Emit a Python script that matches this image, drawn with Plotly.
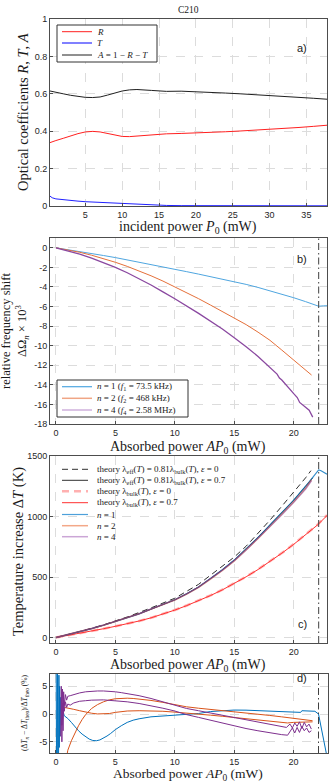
import plotly.graph_objects as go

# ---------------------------------------------------------------------------
# data (sample C210)
# ---------------------------------------------------------------------------

# a) optical coefficients vs incident power
P0 = [0.2, 0.5, 1, 2, 3, 4, 5, 6, 7, 8, 9, 10, 11, 12, 14, 16, 18, 20, 22, 24, 26, 28, 30, 32, 34, 36, 37.8]
R = [0.339, 0.344, 0.350, 0.362, 0.375, 0.387, 0.396, 0.399, 0.396, 0.388, 0.378, 0.372, 0.371, 0.374,
     0.381, 0.386, 0.388, 0.390, 0.393, 0.397, 0.401, 0.405, 0.409, 0.414, 0.420, 0.426, 0.432]
T = [0.053, 0.044, 0.038, 0.033, 0.029, 0.026, 0.023, 0.021, 0.019, 0.017, 0.015, 0.013, 0.010, 0.007,
     0.004, 0.003, 0.002, 0.002, 0.002, 0.001, 0.001, 0.001, 0.001, 0.001, 0.001, 0.001, 0.001]
A = [0.615, 0.612, 0.608, 0.600, 0.592, 0.585, 0.581, 0.580, 0.583, 0.593, 0.605, 0.615, 0.621, 0.623,
     0.618, 0.613, 0.614, 0.612, 0.608, 0.604, 0.600, 0.596, 0.592, 0.587, 0.582, 0.576, 0.571]

# b) relative frequency shift vs absorbed power
AP_B1 = [0, 1, 2, 3, 4, 5, 6, 7, 8, 9, 10, 11, 12, 13, 14, 15, 16, 17, 18, 19, 20, 21, 22.1, 22.5, 22.8]
SHIFT_N1 = [0, -0.18, -0.37, -0.58, -0.79, -1.0, -1.23, -1.46, -1.70, -1.95, -2.2, -2.44, -2.69, -2.94,
            -3.19, -3.45, -3.74, -4.05, -4.38, -4.73, -5.1, -5.5, -5.97, -5.93, -5.92]
AP_B2 = [0, 1, 2, 3, 4, 5, 6, 7, 8, 9, 10, 11, 12, 13, 14, 15, 16, 17, 18, 19, 20, 21, 21.5]
SHIFT_N2 = [0, -0.2, -0.46, -0.76, -1.1, -1.48, -1.9, -2.36, -2.86, -3.4, -3.98, -4.58, -5.2, -5.85,
            -6.5, -7.15, -7.85, -8.62, -9.45, -10.45, -11.5, -12.5, -13.0]
AP_B4 = [0, 1, 2, 3, 4, 5, 6, 7, 8, 9, 10, 12, 14, 15, 16, 17, 18, 18.6, 18.8, 19, 20, 20.3, 20.5, 21, 21.3, 21.6]
SHIFT_N4 = [0, -0.3, -0.65, -1.05, -1.5, -2.0, -2.55, -3.15, -3.8, -4.5, -5.2, -6.7, -8.3, -9.2, -10.1,
            -11.1, -12.2, -12.9, -13.3, -13.5, -14.9, -15.3, -15.8, -16.3, -16.6, -17.3]

# c) temperature increase vs absorbed power
AP_C = [0, 1, 2, 3, 4, 5, 6, 7, 8, 9, 10, 11, 12, 13, 14, 15, 16, 17, 18, 19, 20, 21]
DT_EFF_E0_X = [0, 2, 4, 6, 8, 10, 12, 14, 15, 16, 17, 18, 19, 20, 21, 21.45]
DT_EFF_E0 = [0, 49, 105, 170, 245, 325, 440, 585, 665, 755, 860, 970, 1085, 1200, 1320, 1379]
DT_EFF_E07 = [0, 23, 48, 74, 102, 132, 164, 197, 234, 272, 312, 362, 418, 488, 560, 640, 730, 828, 930,
              1030, 1135, 1250, 1320]
DT_BULK_X = [0, 1, 2, 3, 4, 5, 6, 7, 8, 9, 10, 11, 12, 13, 14, 15, 16, 17, 18, 19, 20, 21, 22, 22.8]
DT_BULK_E0 = [0, 17, 35, 54, 73, 93, 114, 137, 163, 194, 228, 265, 305, 348, 395, 447, 503, 563, 628,
              698, 772, 850, 932, 1012]
DT_BULK_E07 = [0, 17, 35, 54, 73, 93, 114, 137, 163, 193, 227, 264, 304, 347, 394, 446, 502, 562, 627,
               697, 770, 848, 930, 1008]
DT_N1_X = [0, 1, 2, 3, 4, 5, 6, 7, 8, 9, 10, 11, 12, 13, 14, 15, 16, 17, 18, 19, 20, 21, 22.1, 22.3, 22.5, 22.8]
DT_N1 = [0, 23, 48, 74, 102, 132, 163, 196, 236, 272, 312, 362, 418, 488, 560, 640, 730, 828, 930, 1030,
         1135, 1250, 1385, 1378, 1368, 1350]
DT_N2 = [0, 23, 48, 74, 102, 132, 163, 196, 235, 271, 310, 359, 414, 483, 554, 633, 722, 819, 919, 1019,
         1123, 1236, 1305]
DT_N4 = [0, 23, 48, 75, 103, 133, 164, 197, 236, 272, 311, 361, 416, 486, 557, 636, 723, 821, 917, 1015,
         1118, 1228, 1298]

# d) relative deviation from theory (%)
DEV_N1_X = [0.02, 0.05, 0.08, 0.1, 0.13, 0.16, 0.19, 0.22, 0.25, 0.28, 0.31, 0.35, 0.4, 0.45, 0.5, 0.55,
            0.6, 0.7, 1.0, 1.3, 1.6, 1.9, 2.2, 2.5, 2.8, 3.1, 3.4, 3.7, 4.0, 4.3, 4.6, 5.0, 5.5, 6.0, 6.5,
            7.0, 8.0, 9.0, 10, 11, 12, 13, 14, 15, 16, 17, 18, 19, 20, 20.6, 20.7, 21.5, 21.8, 22.1, 22.4, 22.8]
DEV_N1 = [9, -9, 8, -8, 9, -9, 8, -8, 7, -6, 5, -4, 3, -2, 1.5, -1, 0.5, -0.3, -0.8, -1.5, -2.3, -3.0,
          -3.6, -4.1, -4.5, -4.75, -4.8, -4.65, -4.35, -3.95, -3.5, -2.8, -2.1, -1.5, -1.1, -0.85, -0.5,
          -0.35, -0.25, -0.15, 0.1, 0.45, 0.65, 0.72, 0.7, 0.6, 0.5, 0.35, 0.3, 0.3, 0.6, 0.6, 0.5, 0.0,
          -3.0, -7.5]
DEV_N2A_X = [0.85, 1.0, 1.3, 1.6, 1.9, 2.2, 2.5, 3.0, 3.5, 4.0, 4.5, 5.0, 5.5, 6.0, 6.5, 7.0, 8.0, 9.0,
             10, 11, 12, 13, 14, 15, 16, 17, 18, 19, 20, 21, 21.6]
DEV_N2A = [-8.3, -6.5, -4.8, -3.3, -2.1, -1.0, -0.1, 1.0, 1.7, 2.2, 2.55, 2.75, 2.85, 2.85, 2.8, 2.7,
           2.45, 2.1, 1.7, 1.3, 1.05, 0.85, 0.6, 0.45, 0.2, 0.0, -0.25, -0.5, -0.75, -1.0, -1.2]
DEV_N2B_X = [0.7, 1.0, 1.5, 2.0, 2.5, 3.0, 3.5, 4.0, 4.5, 5.0, 5.5, 6.0, 7.0, 8.0, 9.0, 10, 11, 12, 13,
             14, 15, 16, 17, 18, 19, 19.5, 20, 21, 21.6]
DEV_N2B = [1.2, 1.1, 0.85, 0.6, 0.35, 0.15, 0.02, 0.0, 0.1, 0.3, 0.45, 0.55, 0.6, 0.6, 0.5, 0.35, 0.2,
           0.0, -0.2, -0.4, -0.6, -0.8, -1.0, -1.2, -1.45, -1.6, -1.5, -1.45, -1.4]
DEV_N4A_X = [0.4, 0.45, 0.5, 0.55, 0.6, 0.65, 0.7, 0.8, 0.9, 1.0, 1.2, 1.5, 2.0, 2.5, 3.0, 3.5, 4.0, 4.5,
             5.0, 5.5, 6.0, 7.0, 8.0, 9.0, 10, 11, 12, 13, 14, 15, 16, 17, 18, 19, 19.4, 19.7, 19.9,
             20.1, 20.3, 20.5, 20.7, 20.9, 21.1, 21.3, 21.5]
DEV_N4A = [-4, 5, -2, 4.5, 0, 4, 1.5, 3.5, 2.5, 3.2, 3.3, 3.5, 3.8, 4.0, 4.1, 4.15, 4.15, 4.1, 4.0, 3.85,
           3.7, 3.3, 2.8, 2.2, 1.5, 1.0, 0.6, 0.2, -0.2, -0.6, -1.0, -1.4, -1.8, -2.2, -2.4, -1.8, -2.5,
           -1.6, -2.2, -1.4, -2.6, -1.5, -2.3, -1.8, -2.7]
DEV_N4B_X = [0.45, 0.5, 0.55, 0.6, 0.65, 0.7, 0.8, 0.9, 1.0, 1.2, 1.5, 2.0, 2.5, 3.0, 4.0, 5.0, 6.0, 7.0,
             8.0, 9.0, 10, 11, 12, 13, 14, 15, 16, 17, 18, 19, 19.5, 19.9, 20.1, 20.3, 20.5, 20.7, 20.9,
             21.1, 21.3, 21.5]
DEV_N4B = [3, -5, 2, -3, 2.5, 0.5, 2.2, 1.2, 1.8, 1.6, 2.0, 2.3, 2.4, 2.5, 2.55, 2.4, 2.2, 1.9, 1.5,
           1.05, 0.55, -0.1, -0.6, -1.1, -1.6, -2.2, -2.6, -3.0, -3.4, -3.7, -3.8, -2.5, -3.4, -2.4, -3.3,
           -2.2, -3.0, -2.5, -3.3, -3.0]

P_CUTOFF = 22.1  # dash-dot marker in b), c), d)

# ---------------------------------------------------------------------------
# styling
# ---------------------------------------------------------------------------
W, H = 333, 784
SERIF = "Liberation Serif"
SANS = "Liberation Sans"
AXIS_COLOR = "#4d4d4d"
GRID_COLOR = "#dcdcdc"
BLUE, ORANGE, PURPLE = "#0072BD", "#D95319", "#7E2F8E"

LINES_A = {"R": dict(color="#ff2020", width=1), "T": dict(color="#2020ff", width=1),
           "A": dict(color="#202020", width=1)}
LINES_B = [dict(color="#4fa6e0", width=1), dict(color="#e5703a", width=1), dict(color="#8a48a0", width=1.3)]
LINES_C = [dict(color="#303030", width=1, dash="6px,4px"), dict(color="#303030", width=1),
           dict(color="rgba(255,110,110,0.55)", width=2.5, dash="7px,5px"), dict(color="#ff3030", width=1),
           dict(color="rgba(0,114,189,0.8)", width=1.2), dict(color="rgba(217,83,25,0.5)", width=1.5),
           dict(color="rgba(126,47,142,0.5)", width=1.5)]


def px_x(p):
    return p / W


def px_y(p):
    return 1 - p / H


X_DOM = [px_x(50), px_x(327)]
DOMAINS = {"a": [px_y(206), px_y(19)], "b": [px_y(424), px_y(238)],
           "c": [px_y(643), px_y(456)], "d": [px_y(753), px_y(674)]}


def axis_style(**kw):
    base = dict(showline=True, mirror=True, linecolor=AXIS_COLOR, linewidth=1, automargin=False,
                ticks="inside", ticklen=3, tickcolor=AXIS_COLOR,
                showgrid=True, gridcolor=GRID_COLOR, griddash="dash", gridwidth=1,
                zeroline=False, tickfont=dict(family=SANS, size=9, color="#262626"))
    base.update(kw)
    return base


fig = go.Figure()

# a)
fig.add_trace(go.Scatter(x=P0, y=R, mode="lines", line=LINES_A["R"], xaxis="x", yaxis="y"))
fig.add_trace(go.Scatter(x=P0, y=T, mode="lines", line=LINES_A["T"], xaxis="x", yaxis="y"))
fig.add_trace(go.Scatter(x=P0, y=A, mode="lines", line=LINES_A["A"], xaxis="x", yaxis="y"))

# b)
for xs, ys, ln in zip([AP_B1, AP_B2, AP_B4], [SHIFT_N1, SHIFT_N2, SHIFT_N4], LINES_B):
    fig.add_trace(go.Scatter(x=xs, y=ys, mode="lines", line=ln, xaxis="x2", yaxis="y2"))

# c)
c_series = [(DT_EFF_E0_X, DT_EFF_E0), (AP_C + [21.6], DT_EFF_E07), (DT_BULK_X, DT_BULK_E0),
            (DT_BULK_X, DT_BULK_E07), (DT_N1_X, DT_N1), (AP_C + [21.5], DT_N2), (AP_C + [21.5], DT_N4)]
for (xs, ys), ln in zip(c_series, LINES_C):
    fig.add_trace(go.Scatter(x=xs, y=ys, mode="lines", line=ln, xaxis="x3", yaxis="y3"))

# d)
for xs, ys, col in [(DEV_N1_X, DEV_N1, BLUE), (DEV_N2A_X, DEV_N2A, ORANGE), (DEV_N2B_X, DEV_N2B, ORANGE),
                    (DEV_N4A_X, DEV_N4A, PURPLE), (DEV_N4B_X, DEV_N4B, PURPLE)]:
    fig.add_trace(go.Scatter(x=xs, y=ys, mode="lines", line=dict(color=col, width=1),
                             xaxis="x4", yaxis="y4"))

# dash-dot cutoff line
for ax in ["2", "3", "4"]:
    fig.add_shape(type="line", xref="x" + ax, yref="y" + ax + " domain", x0=P_CUTOFF, x1=P_CUTOFF,
                  y0=0, y1=1, line=dict(color="#404040", width=1, dash="7px,3px,1.5px,3px"))

yb_ticks = [-18, -16, -14, -12, -10, -8, -6, -4, -2, 0]
yd_ticks = [-5, 0, 5]

fig.update_layout(
    template="none",
    width=W, height=H, margin=dict(l=0, r=0, t=0, b=0),
    paper_bgcolor="white", plot_bgcolor="white", showlegend=False,
    xaxis=axis_style(domain=X_DOM, anchor="y", range=[0.2, 37.8], tickvals=[5, 10, 15, 20, 25, 30, 35]),
    yaxis=axis_style(domain=DOMAINS["a"], anchor="x", range=[0, 1],
                     tickvals=[0, 0.2, 0.4, 0.6, 0.8, 1], ticktext=["0", "0.2", "0.4", "0.6", "0.8", "1"]),
    xaxis2=axis_style(domain=X_DOM, anchor="y2", range=[-0.5, 22.8], tickvals=[0, 5, 10, 15, 20]),
    yaxis2=axis_style(domain=DOMAINS["b"], anchor="x2", range=[-18, 1], tickvals=yb_ticks,
                      ticktext=[str(v) for v in yb_ticks]),
    xaxis3=axis_style(domain=X_DOM, anchor="y3", range=[-0.5, 22.8], tickvals=[0, 5, 10, 15, 20]),
    yaxis3=axis_style(domain=DOMAINS["c"], anchor="x3", range=[-45, 1500], tickvals=[0, 500, 1000, 1500],
                      ticktext=["0", "500", "1000", "1500"]),
    xaxis4=axis_style(domain=[px_x(50), px_x(328)], anchor="y4", range=[-0.5, 22.9],
                      tickvals=[0, 5, 10, 15, 20]),
    yaxis4=axis_style(domain=DOMAINS["d"], anchor="x4", range=[-7, 7.2], tickvals=yd_ticks,
                      ticktext=[str(v) for v in yd_ticks]),
)


# hand-drawn legends (MATLAB style, compact rows)
def add_legend(entries, x_line0, x_line1, x_text, rows_y, box=None):
    if box is not None:
        x0, y0, x1, y1 = box
        fig.add_shape(type="rect", xref="paper", yref="paper", x0=px_x(x0), x1=px_x(x1),
                      y0=px_y(y1), y1=px_y(y0), line=dict(color="#333333", width=1), fillcolor="white")
    for (label, ln), y in zip(entries, rows_y):
        fig.add_shape(type="line", xref="paper", yref="paper", x0=px_x(x_line0), x1=px_x(x_line1),
                      y0=px_y(y), y1=px_y(y), line=ln)
        fig.add_annotation(text=label, x=px_x(x_text), y=px_y(y), xref="paper", yref="paper",
                           showarrow=False, xanchor="left", yanchor="middle",
                           font=dict(family=SERIF, size=9, color="#1a1a1a"))


add_legend([("<i>R</i>", LINES_A["R"]), ("<i>T</i>", dict(color="#8080ff", width=2)),
            ("<i>A</i> = 1 − <i>R</i> − <i>T</i>", LINES_A["A"])],
           62, 92, 95, [31.7, 43, 55], box=(57, 25, 157, 62))
add_legend([("<i>n</i> = 1 (<i>f</i><sub>1</sub> = 73.5 kHz)", dict(color="#4fa6e0", width=1.2)),
            ("<i>n</i> = 2 (<i>f</i><sub>2</sub> = 468 kHz)", dict(color="#f0a585", width=1.5)),
            ("<i>n</i> = 4 (<i>f</i><sub>4</sub> = 2.58 MHz)", dict(color="#cfb0dc", width=1.5))],
           62, 92, 95, [386.7, 398.3, 410], box=(57, 380, 188, 417))
add_legend([("theory λ<sub>eff</sub>(<i>T</i>) = 0.81λ<sub>bulk</sub>(<i>T</i>), <i>ε</i> = 0", LINES_C[0]),
            ("theory λ<sub>eff</sub>(<i>T</i>) = 0.81λ<sub>bulk</sub>(<i>T</i>), <i>ε</i> = 0.7", LINES_C[1]),
            ("theory λ<sub>bulk</sub>(<i>T</i>), <i>ε</i> = 0", dict(color="#ffb0b0", width=2.5, dash="7px,5px")),
            ("theory λ<sub>bulk</sub>(<i>T</i>), <i>ε</i> = 0.7", LINES_C[3]),
            ("<i>n</i> = 1", dict(color="#4da0da", width=1.2)),
            ("<i>n</i> = 2", dict(color="#f3a888", width=1.5)),
            ("<i>n</i> = 4", dict(color="#cba6d6", width=1.5))],
           62, 88, 95, [469.3, 480.3, 491.3, 502.7, 514.5, 525.7, 536.7])

# titles and panel labels
notes = [
    ("C210", 188.5, 10, 0, 9.5, SERIF),
    ("incident power <i>P</i><sub>0</sub> (mW)", 188.5, 227, 0, 14, SERIF),
    ("Absorbed power <i>AP</i><sub>0</sub> (mW)", 188.5, 447, 0, 14, SERIF),
    ("Absorbed power <i>AP</i><sub>0</sub> (mW)", 188.5, 665, 0, 14, SERIF),
    ("Absorbed power <i>AP</i><sub>0</sub> (mW)", 188.5, 774, 0, 13.5, SERIF),
    ("Optical coefficients <i>R</i>, <i>T</i>, <i>A</i>", 23, 112, -90, 14.5, SERIF),
    ("relative frequency shift<br>ΔΩ<sub><i>n</i></sub> × 10<sup>3</sup>", 15, 331, -90, 12.5, SERIF),
    ("Temperature increase Δ<i>T</i> (K)", 18, 552, -90, 14.5, SERIF),
    ("(Δ<i>T</i><sub><i>n</i></sub> − Δ<i>T</i><sub>theo</sub>)/Δ<i>T</i><sub>theo</sub> (%)",
     25, 713, -90, 7.5, SERIF),
    ("a)", 302, 48, 0, 11, SANS),
    ("b)", 302, 259, 0, 11, SANS),
    ("c)", 302, 624, 0, 11, SANS),
    ("d)", 302, 678, 0, 11, SANS),
]
for text, x, y, ang, size, fam in notes:
    fig.add_annotation(text=text, x=px_x(x), y=px_y(y), xref="paper", yref="paper", showarrow=False,
                       textangle=ang, xanchor="center", yanchor="middle",
                       font=dict(family=fam, size=size, color="#1a1a1a"))

# the page's default 8px body margin would shift the fixed-size figure
fig.write_html("out.html", config={"displayModeBar": False},
               post_script="document.body.style.margin='0';document.body.style.overflow='hidden';")
